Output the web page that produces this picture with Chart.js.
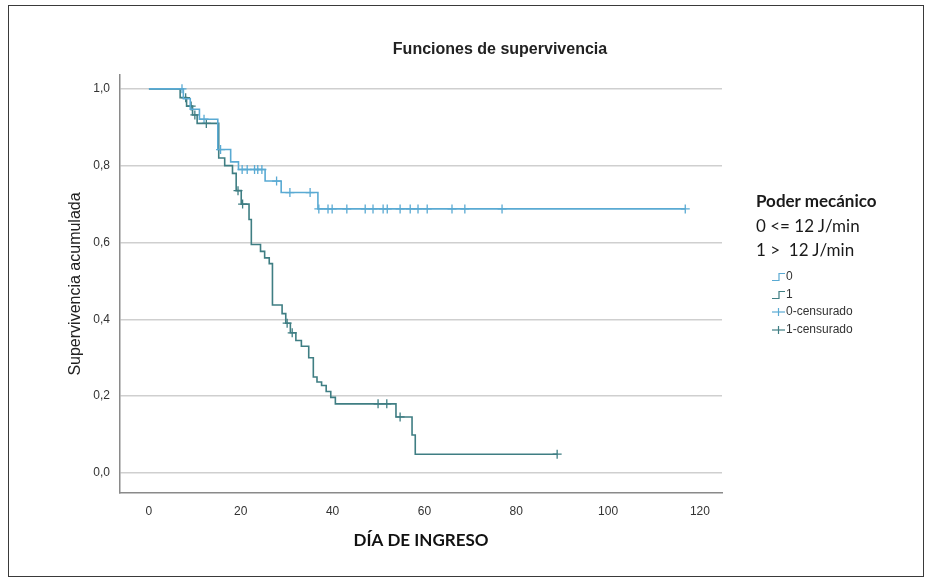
<!DOCTYPE html>
<html>
<head>
<meta charset="utf-8">
<script src="https://cdn.jsdelivr.net/npm/chart.js@4.4.0/dist/chart.umd.min.js"></script>
<style>
  body { margin: 0; background: #fff; }
  #wrap { position: relative; width: 932px; height: 581px; overflow: hidden; }
  #marco { position: absolute; left: 8px; top: 5px; width: 914px; height: 570px; border: 1px solid #3a3a3a; }
  canvas { position: absolute; left: 0; top: 0; }
  .titulo { position: absolute; left: 350px; width: 300px; top: 40px; line-height: 20px; text-align: center;
            font: bold 16px "Liberation Sans", Arial, sans-serif; color: #222; }
  .nota { position: absolute; left: 756px; line-height: 20px; white-space: pre;
          font-family: Lato, "Open Sans", sans-serif; font-size: 17px; color: #1a1a1a; }
  .ley { position: absolute; left: 772px; height: 16px; line-height: 16px; white-space: nowrap;
         font: 12px "Liberation Sans", Arial, sans-serif; color: #333; }
  .ley svg { vertical-align: top; margin-top: 3px; margin-right: 1px; }
</style>
</head>
<body>
<div id="wrap">
  <canvas id="grafico" width="932" height="581"></canvas>
  <div id="marco"></div>
  <div class="titulo">Funciones de supervivencia</div>
  <div class="nota" style="top:191px;font-weight:bold">Poder mecánico</div>
  <div class="nota" style="top:216px">0 &lt;= 12 J/min</div>
  <div class="nota" style="top:240px">1 &gt;  12 J/min</div>
  <div id="leyenda"></div>
</div>
<script>
// colores de cada grupo
const color0 = "#5aaad3";
const color1 = "#3f7e83";

// ejes
const xTicks = [0, 20, 40, 60, 80, 100, 120];
const yTicks = [0, 0.2, 0.4, 0.6, 0.8, 1.0];

// grupo 0 (<= 12 J/min): tiempo del evento y supervivencia despues del evento
const tiempos0 = [0, 7.5, 9, 11, 15, 17.8, 19.5, 25.3, 28.8, 36.8];
const superv0 = [1.0, 0.974, 0.947, 0.921, 0.842, 0.81, 0.79, 0.76, 0.73, 0.6875];
const fin0 = 116.8;
const censura0 = [7.2, 12.0, 15.6, 20.3, 21.4, 23.0, 23.7, 24.6, 27.8, 30.7, 35.1,
  37.0, 39.0, 39.9, 43.1, 47.1, 48.8, 51.0, 51.9, 54.7, 56.9, 58.6, 60.6, 66.0, 68.8, 76.9, 116.8];

// grupo 1 (> 12 J/min)
const tiempos1 = [0, 6.8, 8.2, 9.5, 10.5, 15.2, 16.5, 18.2, 19.0, 20.1, 21.8, 22.3, 24.3, 25.2, 26.2,
  26.9, 29.0, 29.8, 30.8, 32.0, 33.2, 34.8, 35.8, 36.6, 37.6, 38.6, 39.6, 40.6, 53.8, 57.3, 58.0];
const superv1 = [1.0, 0.977, 0.955, 0.932, 0.91, 0.82, 0.80, 0.78, 0.735, 0.70, 0.66, 0.595, 0.577, 0.56, 0.545,
  0.4375, 0.415, 0.39, 0.365, 0.345, 0.33, 0.30, 0.25, 0.237, 0.228, 0.212, 0.197, 0.18, 0.146, 0.099, 0.049];
const fin1 = 88.9;
const censura1 = [8.0, 9.2, 10.0, 12.5, 19.4, 20.4, 30.1, 31.2, 49.9, 51.8, 54.7, 88.9];

function valorEn(tiempos, superv, t) {
  let v = superv[0];
  for (let i = 0; i < tiempos.length; i++) {
    if (tiempos[i] <= t) v = superv[i];
  }
  return v;
}

function escalones(tiempos, superv, fin) {
  const pts = tiempos.map((t, i) => ({ x: t, y: superv[i] }));
  pts.push({ x: fin, y: superv[superv.length - 1] });
  return pts;
}

function cruces(tiempos, superv, censuras) {
  return censuras.map(t => ({ x: t, y: valorEn(tiempos, superv, t) }));
}

Chart.defaults.font.family = '"Liberation Sans", Arial, sans-serif';

const ctx = document.getElementById("grafico");
const grafico = new Chart(ctx, {
  type: "scatter",
  data: {
    datasets: [
      {
        label: "0",
        data: escalones(tiempos0, superv0, fin0),
        showLine: true,
        stepped: "before",
        borderColor: color0,
        borderWidth: 1.6,
        pointRadius: 0,
      },
      {
        label: "1",
        data: escalones(tiempos1, superv1, fin1),
        showLine: true,
        stepped: "before",
        borderColor: color1,
        borderWidth: 1.6,
        pointRadius: 0,
      },
      {
        label: "0-censurado",
        data: cruces(tiempos0, superv0, censura0),
        showLine: false,
        pointStyle: "cross",
        pointRadius: 4.5,
        borderColor: color0,
        borderWidth: 1.3,
      },
      {
        label: "1-censurado",
        data: cruces(tiempos1, superv1, censura1),
        showLine: false,
        pointStyle: "cross",
        pointRadius: 4.5,
        borderColor: color1,
        borderWidth: 1.3,
      },
    ],
  },
  options: {
    responsive: false,
    animation: false,
    layout: { padding: { left: 55, right: 210, top: 75, bottom: 20 } },
    plugins: {
      legend: { display: false },
      tooltip: { enabled: false },
    },
    scales: {
      x: {
        type: "linear",
        min: -6.3,
        max: 124.8,
        afterBuildTicks: (s) => { s.ticks = xTicks.map(v => ({ value: v })); },
        afterFit: (s) => { s.height = 68; },
        grid: { display: false, drawTicks: false },
        border: { display: true, color: "#8a8a8a", width: 1.5 },
        ticks: { padding: 11, color: "#333", font: { size: 12 } },
        title: {
          display: true,
          text: "DÍA DE INGRESO",
          color: "#111",
          font: { family: "Lato, 'Open Sans', sans-serif", size: 17, weight: "bold" },
          padding: { top: 0, bottom: 10 },
        },
      },
      y: {
        type: "linear",
        min: -0.052,
        max: 1.036,
        afterBuildTicks: (s) => { s.ticks = yTicks.map(v => ({ value: v })); },
        afterFit: (s) => { s.width = 65; },
        grid: { color: "#cfcfcf", lineWidth: 1.5, drawTicks: false },
        border: { display: true, color: "#8a8a8a", width: 1.5 },
        ticks: {
          padding: 10,
          color: "#333",
          font: { size: 12 },
          callback: (v) => v.toFixed(1).replace(".", ","),
        },
        title: {
          display: true,
          text: "Supervivencia acumulada",
          color: "#222",
          font: { size: 16 },
          padding: { top: 11, bottom: 0 },
        },
      },
    },
  },
});

// leyenda pequeña al estilo SPSS
const filas = [
  { texto: "0", color: color0, tipo: "paso", y: 269 },
  { texto: "1", color: color1, tipo: "paso", y: 287 },
  { texto: "0-censurado", color: color0, tipo: "cruz", y: 304 },
  { texto: "1-censurado", color: color1, tipo: "cruz", y: 322 },
];
const leyenda = document.getElementById("leyenda");
filas.forEach(f => {
  const icono = f.tipo === "paso"
    ? '<polyline points="0,8.5 7,8.5 7,1.5 13,1.5" fill="none" stroke="' + f.color + '" stroke-width="1.2"/>'
    : '<line x1="0" y1="5" x2="13" y2="5" stroke="' + f.color + '" stroke-width="1.2"/>' +
      '<line x1="6.5" y1="1" x2="6.5" y2="9" stroke="' + f.color + '" stroke-width="1.2"/>';
  const d = document.createElement("div");
  d.className = "ley";
  d.style.top = f.y + "px";
  d.innerHTML = '<svg width="13" height="10">' + icono + '</svg>' + f.texto;
  leyenda.appendChild(d);
});
</script>
</body>
</html>
